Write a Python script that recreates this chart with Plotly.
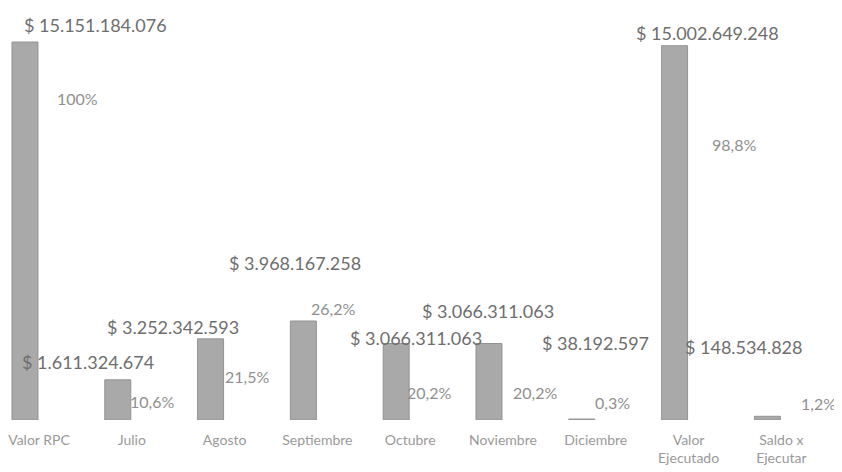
import plotly.graph_objects as go

categories = ["Valor RPC", "Julio", "Agosto", "Septiembre", "Octubre",
              "Noviembre", "Diciembre", "Valor<br>Ejecutado", "Saldo x<br>Ejecutar"]
values = [15151184076, 1611324674, 3252342593, 3968167258, 3066311063,
          3066311063, 38192597, 15002649248, 148534828]
value_labels = ["$ 15.151.184.076", "$ 1.611.324.674", "$ 3.252.342.593",
                "$ 3.968.167.258", "$ 3.066.311.063", "$ 3.066.311.063",
                "$ 38.192.597", "$ 15.002.649.248", "$ 148.534.828"]
pct_labels = ["100%", "10,6%", "21,5%", "26,2%", "20,2%", "20,2%",
              "0,3%", "98,8%", "1,2%"]

# label placement (pixel shifts from each bar top), mimicking the original layout
val_shift = [(71, 17), (-30, 18), (-38, 12), (-8, 58), (20, 6),
             (-1, 33), (14, 76), (33, 13), (-23, 69)]
pct_shift = [(53, -56), (34, -22), (36, -38), (30, 13), (33, -49),
             (46, -49), (31, 17), (59, -99), (51, 13)]

fig = go.Figure()
fig.add_trace(go.Bar(
    x=list(range(len(categories))), y=values,
    marker=dict(color="#a9a9a9", line=dict(color="#939393", width=1)),
    width=0.28, hoverinfo="skip"))

for i, v in enumerate(values):
    fig.add_annotation(x=i, y=v, text=value_labels[i], showarrow=False,
                       xshift=val_shift[i][0], yshift=val_shift[i][1],
                       font=dict(family="Lato", size=18, color="#6e6e6e"))
    fig.add_annotation(x=i, y=v, text=pct_labels[i], showarrow=False,
                       xshift=pct_shift[i][0], yshift=pct_shift[i][1],
                       font=dict(family="Lato", size=16, color="#909090"))

# page body has an 8px margin; figure is sized/ranged to compensate
ymax = values[0] * 412 / 378
fig.update_layout(
    width=834, height=464,
    margin=dict(l=0, r=0, t=0, b=52),
    paper_bgcolor="white", plot_bgcolor="white",
    showlegend=False,
    xaxis=dict(range=[-0.183, 8.804], tickmode="array",
               tickvals=list(range(len(categories))), ticktext=categories,
               showgrid=False, zeroline=False, showline=False, ticks="",
               ticklabelshift=14, ticklabelstandoff=10, ticklabeloverflow="allow",
               tickfont=dict(family="Lato", size=14, color="#999999"),
               automargin=False),
    yaxis=dict(range=[0, ymax], visible=False, showgrid=False, zeroline=False),
)
fig.write_html("out.html")
